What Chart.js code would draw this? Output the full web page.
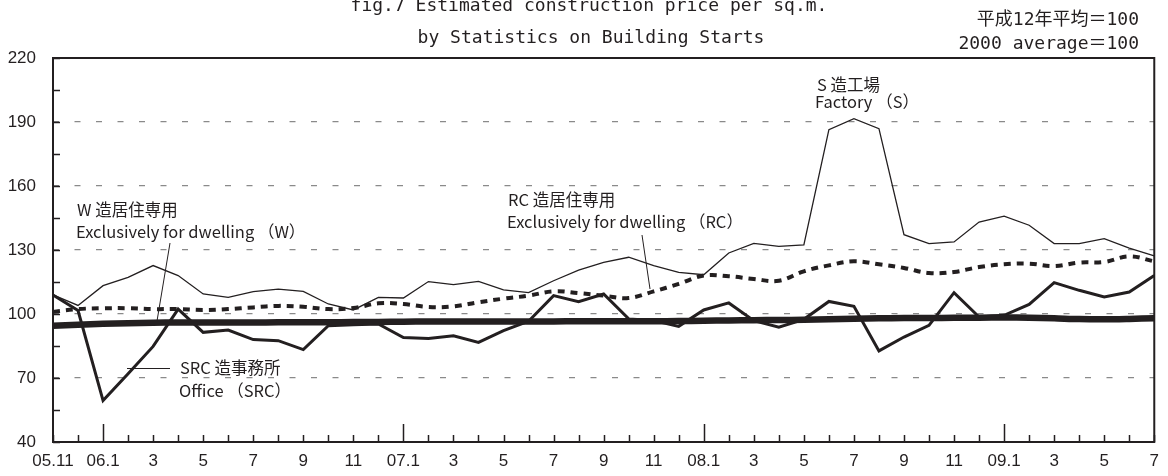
<!DOCTYPE html>
<html>
<head>
<meta charset="utf-8">
<script src="https://cdn.jsdelivr.net/npm/chart.js@4"></script>
<style>
  body { margin: 0; background: #fff; }
  #wrap { width: 1168px; height: 476px; position: relative; }
</style>
</head>
<body>
<div id="wrap"><canvas id="chart"></canvas></div>
<script>
// 月 (05.11 ～ 09.7)
const months = ['05.11','05.12','06.1','06.2','06.3','06.4','06.5','06.6','06.7','06.8','06.9','06.10','06.11','06.12',
    '07.1','07.2','07.3','07.4','07.5','07.6','07.7','07.8','07.9','07.10','07.11','07.12',
    '08.1','08.2','08.3','08.4','08.5','08.6','08.7','08.8','08.9','08.10','08.11','08.12',
    '09.1','09.2','09.3','09.4','09.5','09.6','09.7'];

const tickLabels = ['05.11','','06.1','','3','','5','','7','','9','','11','',
    '07.1','','3','','5','','7','','9','','11','',
    '08.1','','3','','5','','7','','9','','11','',
    '09.1','','3','','5','','7'];

const yTicks = [40, 70, 100, 130, 160, 190, 220];

// S造工場
const factoryS = [109, 104, 113.3, 117.2, 122.7, 118, 109.4, 107.8, 110.5, 111.7, 110.6, 104.7, 101.9, 107.8, 107.5,
    115.2, 113.8, 115.3, 111.3, 110, 115.6, 120.6, 124.2, 126.6, 122.7, 119.5, 118.4, 128.6, 133.1, 131.7,
    132.4, 186.4, 191.6, 186.9, 137.2, 133, 133.8, 143.1, 145.9, 141.6, 133, 133, 135.3, 130.9, 127.2];

// RC造居住専用
const dwellingRC = [101, 102.3, 102.7, 102.7, 102.3, 102.3, 101.9, 102.3, 103.1, 103.8, 103.4, 102.3, 102.8, 105, 104.7,
    103.3, 103.6, 105.5, 107.2, 108.6, 110.6, 109.8, 108.6, 107.5, 110.6, 114.1, 118, 117.7, 116.4, 115.6,
    120, 122.8, 124.7, 123.3, 121.6, 119.2, 119.7, 122, 123.3, 123.6, 122.5, 124.1, 124.4, 127, 124.7];

// SRC造事務所
const officeSRC = [108.9, 101.6, 59.4, 72, 84.8, 102.3, 91.4, 92.5, 88, 87.5, 83.3, 94.5, 95, 95.3, 89,
    88.5, 89.8, 86.7, 92.2, 96.6, 108.6, 105.8, 109.4, 97.7, 96.9, 94.2, 101.9, 105.2, 96.9, 93.8,
    97.5, 105.9, 103.6, 82.7, 89.2, 94.7, 110, 98.6, 99.4, 104.5, 114.7, 111.1, 108, 110.3, 118.1];

// W造居住専用
const dwellingW = [94.5, 95, 95.4, 95.7, 95.9, 96, 96, 96, 96, 96.1, 96.1, 96.1, 96.2, 96.3, 96.4,
    96.5, 96.5, 96.5, 96.5, 96.5, 96.5, 96.6, 96.6, 96.6, 96.6, 96.7, 96.8, 97, 97.1, 97.2,
    97.3, 97.5, 97.8, 98, 98.1, 98.1, 98.2, 98.3, 98.4, 98.3, 98, 97.6, 97.5, 97.7, 98];

const ink = '#231f20';
const jpFont = '"Noto Sans CJK JP", "Noto Sans", sans-serif';
const monoFont = '"DejaVu Sans Mono", "Noto Sans CJK JP", monospace';

// 枠・目盛り・注記
const decorations = {
    id: 'decorations',
    afterDraw(chart) {
        const ctx = chart.ctx;
        const a = chart.chartArea;
        const x = chart.scales.x;
        const y = chart.scales.y;
        ctx.save();
        ctx.strokeStyle = ink;
        ctx.lineWidth = 2;
        ctx.strokeRect(a.left, a.top, a.right - a.left, a.bottom - a.top);

        // inner ticks
        ctx.lineWidth = 1.5;
        ctx.beginPath();
        for (let v = 40; v <= 220; v += 15) {
            const py = Math.round(y.getPixelForValue(v)) + 0.5;
            ctx.moveTo(a.left, py);
            ctx.lineTo(a.left + 7, py);
        }
        months.forEach((m, i) => {
            const px = Math.round(x.getPixelForValue(i)) + 0.5;
            const len = m.endsWith('.1') ? 18 : 7;
            ctx.moveTo(px, a.bottom);
            ctx.lineTo(px, a.bottom - len);
        });
        ctx.stroke();

        // title
        ctx.fillStyle = ink;
        ctx.textAlign = 'center';
        ctx.textBaseline = 'alphabetic';
        ctx.font = '18px ' + monoFont;
        ctx.fillText('fig.7 Estimated construction price per sq.m.', 589, 11);
        ctx.fillText('by Statistics on Building Starts', 591, 43);

        ctx.textAlign = 'right';
        ctx.fillText('平成12年平均＝100', 1139, 25);
        ctx.fillText('2000 average＝100', 1139, 49);

        // series notes
        ctx.textAlign = 'left';
        ctx.font = '16.5px ' + jpFont;
        ctx.fillText('S 造工場', 817, 91);
        ctx.fillText('Factory （S）', 815, 108);
        ctx.fillText('W 造居住専用', 77, 216);
        ctx.fillText('Exclusively for dwelling （W）', 76, 238);
        ctx.fillText('RC 造居住専用', 508, 206);
        ctx.fillText('Exclusively for dwelling （RC）', 507, 228);
        ctx.fillText('SRC 造事務所', 180, 374);
        ctx.fillText('Office （SRC）', 179, 397);

        ctx.lineWidth = 1;
        ctx.beginPath();
        ctx.moveTo(170, 243); ctx.lineTo(157, 321);
        ctx.moveTo(642, 235); ctx.lineTo(650, 289);
        ctx.moveTo(127, 368.5); ctx.lineTo(170, 368.5);
        ctx.stroke();
        ctx.restore();
    }
};

new Chart(document.getElementById('chart'), {
    type: 'line',
    data: {
        labels: months,
        datasets: [{
            label: 'W造居住専用',
            data: dwellingW,
            borderColor: ink,
            borderWidth: 6.5,
            tension: 0.3,
            pointRadius: 0
        }, {
            label: 'SRC造事務所',
            data: officeSRC,
            borderColor: ink,
            borderWidth: 3,
            borderJoinStyle: 'miter',
            pointRadius: 0
        }, {
            label: 'RC造居住専用',
            data: dwellingRC,
            borderColor: ink,
            borderWidth: 4,
            borderDash: [7, 6],
            tension: 0.4,
            pointRadius: 0
        }, {
            label: 'S造工場',
            data: factoryS,
            borderColor: ink,
            borderWidth: 1.3,
            pointRadius: 0
        }]
    },
    options: {
        responsive: true,
        maintainAspectRatio: false,
        animation: false,
        layout: {
            padding: { top: 58, right: 11, left: 0, bottom: 0 }
        },
        plugins: {
            legend: { display: false },
            title: { display: false },
            tooltip: { enabled: false }
        },
        scales: {
            x: {
                type: 'category',
                offset: false,
                afterFit: (s) => { s.height = 34; },
                grid: { display: false, drawTicks: false },
                border: { display: false },
                ticks: {
                    autoSkip: false,
                    maxRotation: 0,
                    padding: 9,
                    color: ink,
                    font: { family: '"Liberation Sans", sans-serif', size: 17 },
                    callback: (v, i) => tickLabels[i]
                }
            },
            y: {
                min: 40,
                max: 220,
                afterFit: (s) => { s.width = 53; },
                afterBuildTicks: (s) => { s.ticks = yTicks.map(v => ({ value: v })); },
                grid: {
                    drawTicks: false,
                    lineWidth: 1.3,
                    color: (c) => (c.tick && c.tick.value > 40 && c.tick.value < 220) ? '#8a8a8a' : 'rgba(0,0,0,0)'
                },
                border: { display: false, dash: [6, 15.5] },
                ticks: {
                    padding: 17,
                    color: ink,
                    font: { family: '"Liberation Sans", sans-serif', size: 17 }
                }
            }
        }
    },
    plugins: [decorations]
});
</script>
</body>
</html>
